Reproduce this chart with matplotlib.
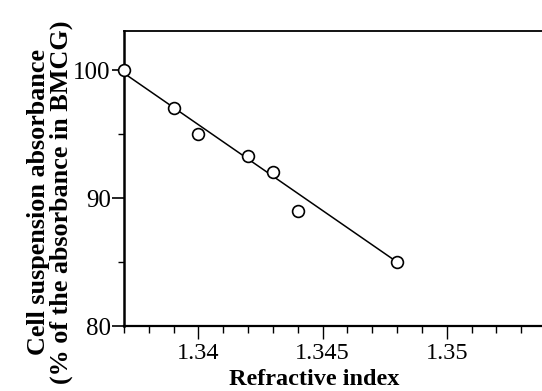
import matplotlib
matplotlib.use('Agg')
import matplotlib.pyplot as plt
from matplotlib.ticker import MultipleLocator, FixedLocator

# Measured points
refractive_index = [1.337, 1.339, 1.340, 1.342, 1.343, 1.344, 1.348]
absorbance_pct = [100.0, 97.0, 95.0, 93.3, 92.0, 89.0, 85.0]

# Regression line end points
fit_x = [1.337, 1.348]
fit_y = [99.75, 85.0]

x_major = [1.34, 1.345, 1.35]
x_major_labels = ['1.34', '1.345', '1.35']
y_major = [80, 90, 100]

plt.rcParams['font.family'] = ['Liberation Serif', 'DejaVu Serif']

fig = plt.figure(figsize=(5.42, 3.91), dpi=100)
ax = fig.add_axes([0.2288, 0.1662, 0.7712, 0.7545])

ax.plot(fit_x, fit_y, color='black', lw=1.1, clip_on=False, zorder=2)
ax.plot(refractive_index, absorbance_pct, 'o', ms=8.5, mfc='white', mec='black',
        mew=1.2, clip_on=False, zorder=3)

ax.set_xlim(1.337, 1.35384)
ax.set_ylim(80, 103.05)

ax.xaxis.set_major_locator(FixedLocator(x_major))
ax.set_xticklabels(x_major_labels)
ax.xaxis.set_minor_locator(MultipleLocator(0.001))
ax.yaxis.set_major_locator(FixedLocator(y_major))
ax.yaxis.set_minor_locator(MultipleLocator(5))

ax.tick_params(axis='x', which='major', direction='out', length=9, width=1.0,
               labelsize=17.5, pad=3)
ax.tick_params(axis='x', which='minor', direction='out', length=5, width=1.0)
ax.tick_params(axis='y', which='major', direction='out', length=9, width=1.2,
               labelsize=18, pad=0.5)
ax.tick_params(axis='y', which='minor', direction='out', length=4, width=1.0)

ax.spines['right'].set_visible(False)
ax.spines['left'].set_linewidth(1.8)
ax.spines['bottom'].set_linewidth(1.6)
ax.spines['top'].set_linewidth(1.3)

ax.set_xlabel('Refractive index', fontsize=17.5, fontweight='bold', va='bottom')
ax.xaxis.set_label_coords(0.579, 0.003, transform=fig.transFigure)
ax.set_ylabel('Cell suspension absorbance\n(% of the absorbance in BMCG)',
              fontsize=18.8, fontweight='bold', va='center', linespacing=1.0)
ax.yaxis.set_label_coords(0.092, 0.483, transform=fig.transFigure)

fig.savefig('out.png', dpi=100)
